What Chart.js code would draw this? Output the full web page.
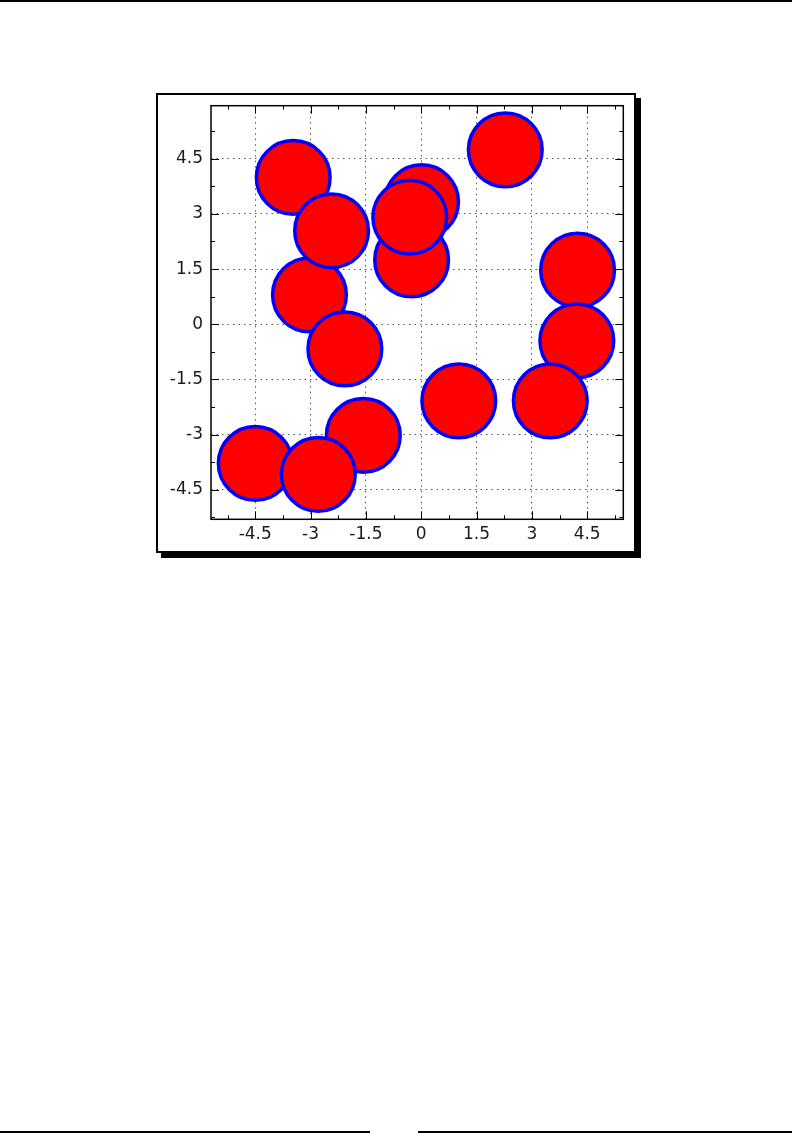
<!DOCTYPE html>
<html>
<head>
<meta charset="utf-8">
<script src="https://cdn.jsdelivr.net/npm/chart.js@4/dist/chart.umd.min.js"></script>
<style>
  html, body { margin: 0; padding: 0; background: #fff; }
  body { width: 792px; height: 1142px; position: relative; overflow: hidden; }
  .rule { position: absolute; height: 1.5px; background: #000; }
  #fig {
    position: absolute; left: 156px; top: 93px; width: 480px; height: 460px;
    box-sizing: border-box; border: 2px solid #000; background: #fff;
    box-shadow: 5px 5px 0 #000;
  }
  #fig canvas { position: absolute; left: 0; top: 0; }
</style>
</head>
<body>
<div class="rule" style="left:0; top:0; width:792px;"></div>
<div id="fig"><canvas id="circles" width="476" height="456"></canvas></div>
<div class="rule" style="left:0; top:1131px; width:370px;"></div>
<div class="rule" style="left:418px; top:1131px; width:374px;"></div>

<script>
// circle centres (data units), in drawing order
const circleX = [-3.47, -3.03, -2.43, -2.07, 0.01, -0.26, -0.31, 2.28, 4.24, 4.22, 3.50, 1.02, -1.57, -4.50, -2.79];
const circleY = [3.99, 0.80, 2.54, -0.67, 3.33, 1.75, 2.91, 4.74, 1.47, -0.45, -2.08, -2.08, -3.02, -3.78, -4.08];
const circleR = 1; // radius in data units

// axis ticks
const xTicks = [-4.5, -3, -1.5, 0, 1.5, 3, 4.5];
const yTicks = [-4.5, -3, -1.5, 0, 1.5, 3, 4.5];
const xMinor = [-5.25, -3.75, -2.25, -0.75, 0.75, 2.25, 3.75, 5.25];
const yMinor = [-5.25, -3.75, -2.25, -0.75, 0.75, 2.25, 3.75, 5.25];

const points = circleX.map((x, i) => ({ x: x, y: circleY[i] }));

// frame + inward ticks like the old matplotlib look
const axisFrame = {
  id: 'axisFrame',
  afterDatasetsDraw(chart) {
    const { ctx, chartArea: a, scales } = chart;
    const sx = scales.x, sy = scales.y;
    ctx.save();
    ctx.strokeStyle = '#000';
    ctx.lineWidth = 1;
    ctx.beginPath();
    const vmarks = (vals, len) => {
      vals.forEach(v => {
        const px = Math.round(sx.getPixelForValue(v)) + 0.5;
        ctx.moveTo(px, a.bottom); ctx.lineTo(px, a.bottom - len);
        ctx.moveTo(px, a.top); ctx.lineTo(px, a.top + len);
      });
    };
    const hmarks = (vals, len) => {
      vals.forEach(v => {
        const py = Math.round(sy.getPixelForValue(v)) + 0.5;
        ctx.moveTo(a.left, py); ctx.lineTo(a.left + len, py);
        ctx.moveTo(a.right, py); ctx.lineTo(a.right - len, py);
      });
    };
    vmarks(xTicks, 8); vmarks(xMinor, 4);
    hmarks(yTicks, 8); hmarks(yMinor, 4);
    ctx.stroke();
    ctx.lineWidth = 1.5;
    ctx.strokeRect(a.left, a.top, a.width, a.height);
    ctx.restore();
  }
};

const tickFont = { family: 'DejaVu Sans', size: 17 };

new Chart(document.getElementById('circles'), {
  type: 'scatter',
  data: {
    datasets: [{
      data: points,
      backgroundColor: '#ff0000',
      borderColor: '#0000ff',
      borderWidth: 3.5,
      pointStyle: 'circle',
      radius: (c) => {
        const s = c.chart.scales.x;
        if (!s || !s.width) return 0;
        const r = s.getPixelForValue(circleR) - s.getPixelForValue(0);
        return isFinite(r) ? r : 0;
      }
    }]
  },
  options: {
    responsive: false,
    animation: false,
    events: [],
    layout: { autoPadding: false, padding: { top: 10.7, right: 10.7, bottom: 0, left: 0 } },
    plugins: { legend: { display: false }, tooltip: { enabled: false } },
    scales: {
      x: {
        type: 'linear', min: -5.7, max: 5.48,
        afterBuildTicks: s => { s.ticks = xTicks.map(v => ({ value: v })); },
        afterFit: s => { s.height = 31.7; s.paddingLeft = 0; s.paddingRight = 0; },
        grid: { color: '#555', lineWidth: 1, drawTicks: false },
        border: { display: false, dash: [1.5, 4] },
        ticks: { font: tickFont, color: '#1a1a1a', padding: 5, maxRotation: 0, autoSkip: false,
                 callback: v => String(v) }
      },
      y: {
        type: 'linear', min: -5.3, max: 5.94,
        afterBuildTicks: s => { s.ticks = yTicks.map(v => ({ value: v })); },
        afterFit: s => { s.width = 53; s.paddingTop = 0; s.paddingBottom = 0; },
        grid: { color: '#555', lineWidth: 1, drawTicks: false },
        border: { display: false, dash: [1.5, 4] },
        ticks: { font: tickFont, color: '#1a1a1a', padding: 8, autoSkip: false,
                 callback: v => String(v) }
      }
    }
  },
  plugins: [axisFrame]
});
</script>
</body>
</html>
